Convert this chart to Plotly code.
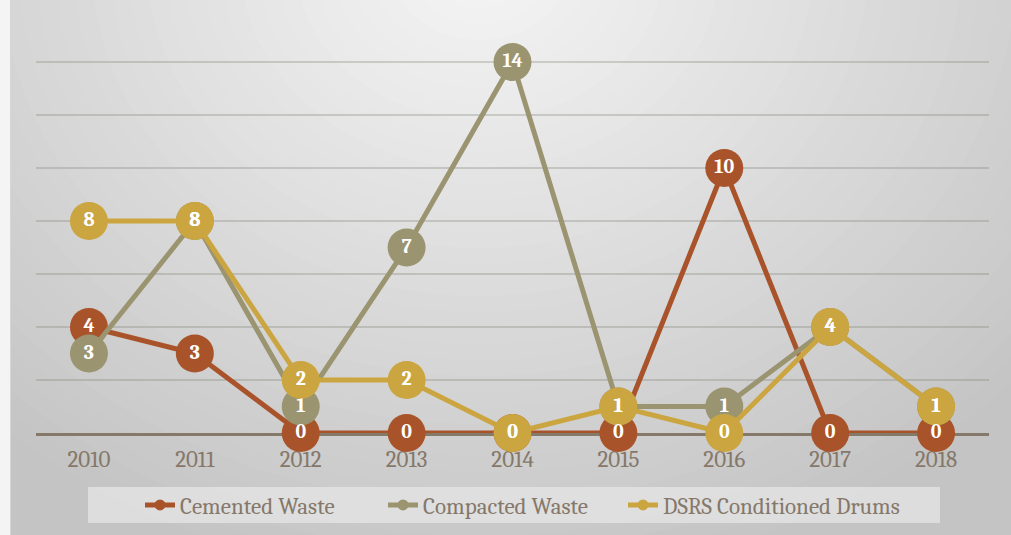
import plotly.graph_objects as go

years = ["2010", "2011", "2012", "2013", "2014", "2015", "2016", "2017", "2018"]
cemented = [4, 3, 0, 0, 0, 0, 10, 0, 0]
compacted = [3, 8, 1, 7, 14, 1, 1, 4, 1]
dsrs = [8, 8, 2, 2, 0, 1, 0, 4, 1]

names = ["Cemented Waste", "Compacted Waste", "DSRS Conditioned Drums"]
colors = ["#A9532A", "#9A9470", "#CBA540"]
series = [cemented, compacted, dsrs]

W, H = 1011, 535
L, R, T, B = 36, 22, 9, 102
PW, PH = W - L - R, H - T - B
FONT = "Cambria, 'Liberation Serif', serif"
TXT = "#85786A"


def px2x(px):
    return (px - L) / PW


def py2y(py):
    return (H - B - py) / PH


fig = go.Figure()

for name, col, vals in zip(names, colors, series):
    fig.add_trace(go.Scatter(
        x=years, y=vals, mode="lines+markers", name=name,
        line=dict(color=col, width=5),
        marker=dict(color=col, size=38),
        showlegend=False, cliponaxis=False, hoverinfo="skip"))

for name, col, vals in zip(names, colors, series):
    fig.add_trace(go.Scatter(
        x=years, y=vals, mode="text", text=[str(v) for v in vals],
        textposition="middle center",
        textfont=dict(family=FONT, size=20, color="white", weight="bold"),
        showlegend=False, cliponaxis=False, hoverinfo="skip"))

legend_ids = ["legend", "legend2", "legend3"]
legend_text_px = [180, 423, 663]
for name, col, lid in zip(names, colors, legend_ids):
    fig.add_trace(go.Scatter(
        x=[None], y=[None], mode="lines+markers", name=name, legend=lid,
        line=dict(color=col, width=5), marker=dict(color=col, size=11)))

shapes = []
# background radial gradient
cx, cy = 480, -40
RX, RY = 740, 640
c_out, c_in = 196, 246
N = 40
for i in range(N):
    t = 1 - i / N
    rx, ry = RX * t, RY * t
    c = int(round(c_in + (c_out - c_in) * t))
    shapes.append(dict(type="circle", xref="paper", yref="paper", layer="below",
                       x0=px2x(cx - rx), x1=px2x(cx + rx),
                       y0=py2y(cy + ry), y1=py2y(cy - ry),
                       fillcolor=f"rgb({c},{c},{c})", line=dict(width=0)))
# left strip
shapes.append(dict(type="rect", xref="paper", yref="paper", layer="below",
                   x0=px2x(0), x1=px2x(10), y0=py2y(H), y1=py2y(0),
                   fillcolor="#F4F4F4", line=dict(width=0)))
shapes.append(dict(type="line", xref="paper", yref="paper", layer="below",
                   x0=px2x(10.5), x1=px2x(10.5), y0=py2y(H), y1=py2y(0),
                   line=dict(color="#D6D6D6", width=1)))
# legend box
shapes.append(dict(type="rect", xref="paper", yref="paper", layer="below",
                   x0=px2x(88), x1=px2x(940), y0=py2y(523), y1=py2y(487),
                   fillcolor="rgba(230,230,230,0.75)", line=dict(width=0)))

legend_common = dict(orientation="h", xanchor="left", y=py2y(505),
                     yanchor="middle", bgcolor="rgba(0,0,0,0)",
                     font=dict(family=FONT, size=23, color=TXT),
                     itemsizing="trace")
legends = {}
for lid, tpx in zip(legend_ids, legend_text_px):
    legends[lid] = dict(legend_common, x=px2x(tpx - 40))

fig.update_layout(
    width=W, height=H,
    margin=dict(l=L, r=R, t=T, b=B),
    paper_bgcolor="rgb(196,196,196)",
    plot_bgcolor="rgba(0,0,0,0)",
    shapes=shapes,
    showlegend=True,
    xaxis=dict(type="category", range=[-0.5, 8.5], showgrid=False,
               showline=True, linecolor="#857A6A", linewidth=3,
               layer="below traces",
               ticks="", ticklabelstandoff=3,
               tickfont=dict(family=FONT, size=23, color=TXT),
               zeroline=False, fixedrange=True),
    yaxis=dict(range=[0, 16], dtick=2, showgrid=True,
               gridcolor="rgba(130,130,120,0.32)", gridwidth=1.5,
               layer="below traces",
               showticklabels=False, zeroline=False, showline=False,
               ticks="", fixedrange=True),
    **legends,
)

fig.write_html("out.html")
